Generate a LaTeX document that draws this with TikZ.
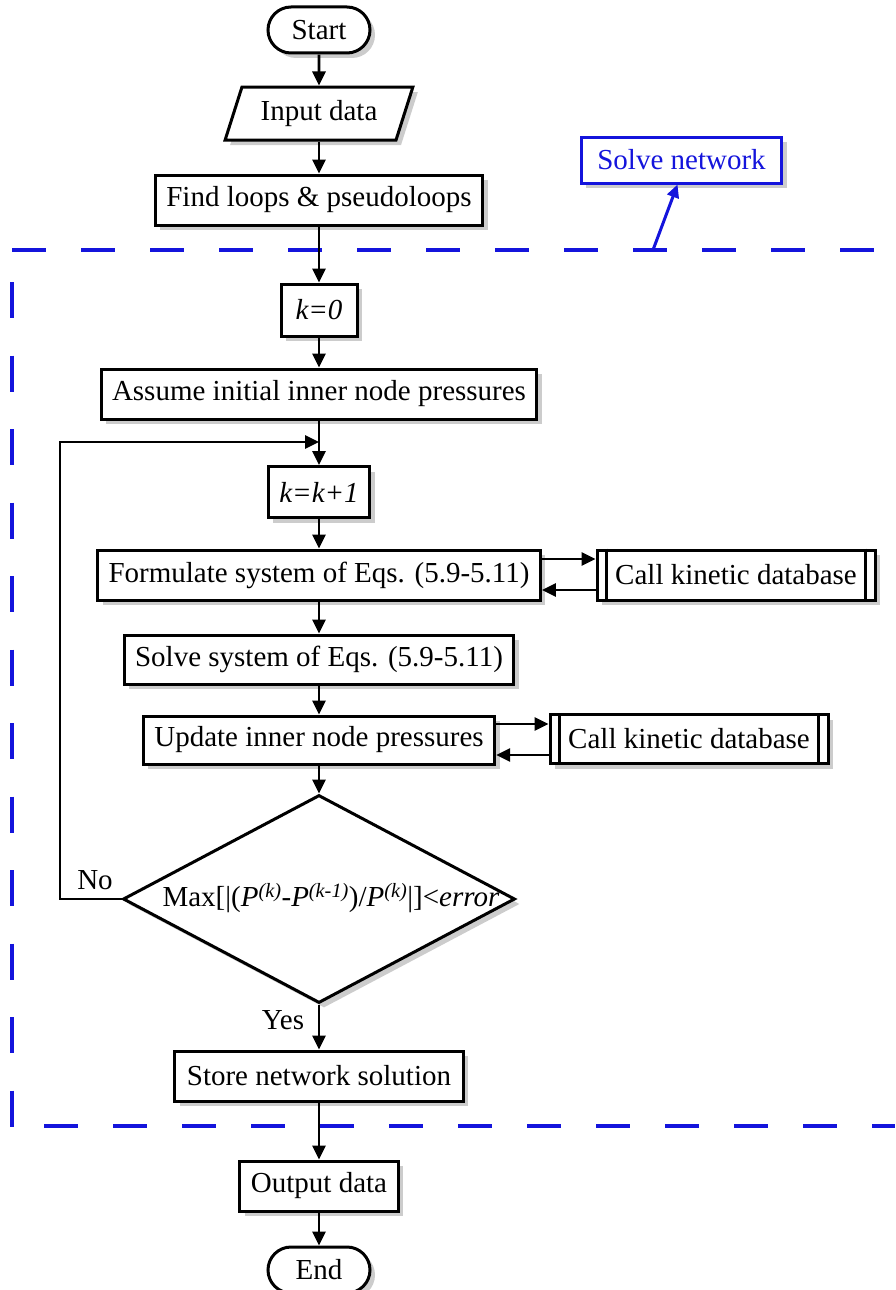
\documentclass[tikz,border=0pt]{standalone}
\usepackage{fontspec}
\setmainfont{Liberation Serif}
\usetikzlibrary{arrows.meta,calc,shapes.geometric,shapes.misc,shadows}
\definecolor{fcblue}{HTML}{1414DC}
\tikzset{
  flowFont/.style={font=\fontsize{29}{34}\selectfont},
  flowShadow/.style={drop shadow={shadow xshift=5pt, shadow yshift=-5pt, opacity=0.4}},
  flowBox/.style={flowFont, draw, line width=3pt, fill=white, inner xsep=11pt, inner ysep=0pt, minimum height=50pt, flowShadow},
  termBox/.style={flowBox, rounded rectangle, minimum width=124pt, minimum height=46pt},
  ioBox/.style={flowBox, trapezium, trapezium left angle=60, trapezium right angle=120, trapezium stretches=true, minimum width=188pt, minimum height=53pt},
  callBox/.style={flowBox, minimum width=278pt},
  checkBox/.style={flowBox, diamond, minimum width=392pt, minimum height=208pt, inner sep=0pt},
  flowArrow/.style={-{Triangle[length=14pt,width=13pt]}, line width=2.8pt},
  flowLabel/.style={flowFont, inner sep=0pt},
  groupLine/.style={draw=fcblue, line width=4pt},
  groupLabel/.style={flowFont, draw=fcblue, text=fcblue, line width=3pt, fill=white, inner xsep=16pt, minimum height=46pt, flowShadow},
  groupArrow/.style={-{Triangle[length=13pt,width=12pt]}, line width=3pt, draw=fcblue}
}

\begin{document}
\begin{tikzpicture}[x=1pt,y=-1pt]
  \useasboundingbox (0,0) rectangle (895,1290);
  \clip (0,0) rectangle (895,1290);
  % solve network group
  \draw[groupLine, dash pattern=on 34pt off 35pt] (12,250) -- (895,250);
  \draw[groupLine, dash pattern=on 36pt off 37.5pt] (12,282) -- (12,1127);
  \draw[groupLine, dash pattern=on 34pt off 35pt] (44,1126) -- (895,1126);
  \node[groupLabel] (netLabel) at (681.5,160) {Solve network};
  \coordinate (netTap) at (653,250);
  \draw[groupArrow] (netTap) -- ([xshift=-4pt]netLabel.south);
  % main flow
  \node[termBox] (start) at (319,30) {Start};
  \node[ioBox] (input) at (319,113.5) {Input data};
  \node[flowBox] (loops) at (319,200) {Find loops \& pseudoloops};
  \node[flowBox, minimum width=76pt, minimum height=52pt] (kZero) at (319,310) {\textit{k=0}};
  \node[flowBox] (assume) at (319,394) {Assume initial inner node pressures};
  \node[flowBox, minimum width=101pt, minimum height=51pt] (kNext) at (319,492) {\textit{k=k+1}};
  \node[flowBox] (formulate) at (319,575) {Formulate system of Eqs. (5.9-5.11)};
  \node[callBox] (callA) at (736,575) {Call kinetic database};
  \node[flowBox, minimum height=49pt] (solve) at (319,659.5) {Solve system of Eqs. (5.9-5.11)};
  \node[flowBox, minimum height=48pt] (update) at (319,740) {Update inner node pressures};
  \node[callBox, minimum height=49pt] (callB) at (689,739) {Call kinetic database};
  \node[checkBox] (check) at (319,899) {};
  \node[flowLabel] (checkText) at (331,898) {Max[|(\textit{P}\textsuperscript{\textit{(k)}}-\textit{P}\textsuperscript{\textit{(k-1)}})/\textit{P}\textsuperscript{\textit{(k)}}|]<\textit{error}};
  \node[flowBox, inner xsep=12pt] (store) at (319,1076) {Store network solution};
  \node[flowBox] (output) at (319,1186) {Output data};
  \node[termBox] (finish) at (319,1270) {End};
  \node[flowLabel] (noLabel) at (95,880) {No};
  \node[flowLabel] (yesLabel) at (283,1020) {Yes};
  % double bars of the call boxes
  \foreach \n in {callA,callB} {
    \draw[line width=2.4pt] ([xshift=11pt]\n.north west) -- ([xshift=11pt]\n.south west);
    \draw[line width=2.4pt] ([xshift=-11pt]\n.north east) -- ([xshift=-11pt]\n.south east);
  }
  % connectors
  \draw[flowArrow] (start) -- (input);
  \draw[flowArrow] (input) -- (loops);
  \draw[flowArrow] (loops) -- (kZero);
  \draw[flowArrow] (kZero) -- (assume);
  \draw[flowArrow] (assume) -- (kNext);
  \draw[flowArrow] (kNext) -- (formulate);
  \draw[flowArrow] (formulate) -- (solve);
  \draw[flowArrow] (solve) -- (update);
  \draw[flowArrow] (update) -- (check);
  \draw[flowArrow] (check) -- (store);
  \draw[flowArrow] (store) -- (output);
  \draw[flowArrow] (output) -- (finish);
  \draw[flowArrow] ([yshift=16pt]formulate.east) -- ([yshift=16pt]formulate.east -| callA.west);
  \draw[flowArrow] ([yshift=-15pt]formulate.east -| callA.west) -- ([yshift=-15pt]formulate.east);
  \draw[flowArrow] ([yshift=16pt]update.east) -- ([yshift=16pt]update.east -| callB.west);
  \draw[flowArrow] ([yshift=-15pt]update.east -| callB.west) -- ([yshift=-15pt]update.east);
  \coordinate (loopTop) at (60,442);
  \coordinate (loopJoin) at (319,442);
  \draw[flowArrow] (check.west) -| (loopTop) -- (loopJoin);
\end{tikzpicture}
\end{document}
